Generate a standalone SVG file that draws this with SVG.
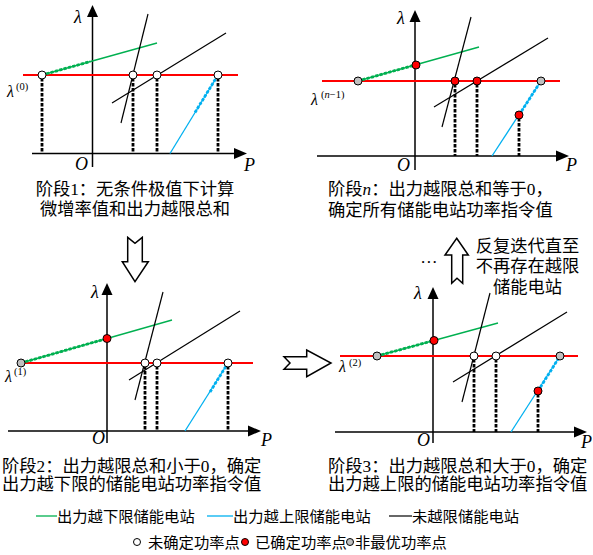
<svg xmlns="http://www.w3.org/2000/svg" width="593" height="555" viewBox="0 0 593 555">
<style>
.ax{stroke:#000;stroke-width:1.5;fill:none}
.ah{fill:#000;stroke:none}
.red{stroke:#ff0000;stroke-width:1.8;fill:none}
.grn{stroke:#00b050;stroke-width:1.3;fill:none}
.grnd{stroke:#00b050;stroke-width:2.8;stroke-dasharray:3 1.5;fill:none}
.blu{stroke:#00b0f0;stroke-width:1.3;fill:none}
.blud{stroke:#00b0f0;stroke-width:2.8;stroke-dasharray:3 1.5;fill:none}
.blk{stroke:#000;stroke-width:1.2;fill:none}
.vd{stroke:#000;stroke-width:2.8;stroke-dasharray:3.5 1.5;fill:none}
.pw{fill:#fff;stroke:#000;stroke-width:1}
.pr{fill:#ff0000;stroke:#000;stroke-width:1}
.pg{fill:#c0c0c0;stroke:#000;stroke-width:1}
.it{font-family:"Liberation Serif",serif;font-style:italic;font-size:18px;fill:#000}
.lam{font-family:"Liberation Serif",serif;font-style:italic;font-size:16px;fill:#000}
.sup{font-family:"Liberation Serif",serif;font-size:10.5px;fill:#000}
.cap{font-family:"Liberation Serif","Noto Sans CJK SC",serif;font-size:17.3px;fill:#000}
.leg{font-family:"Liberation Serif","Noto Sans CJK SC",serif;font-size:15.3px;fill:#000}
.arr{fill:#fff;stroke:#000;stroke-width:1.5;stroke-linejoin:miter}
</style>

<g id="panel1">
<line class="ax" x1="92.5" y1="15" x2="92.5" y2="167"/>
<polygon class="ah" points="92.5,5 87,17 98,17"/>
<line class="ax" x1="32" y1="153.5" x2="236" y2="153.5"/>
<polygon class="ah" points="247,153.5 234,148 234,159"/>
<line class="red" x1="23" y1="75" x2="238" y2="75"/>
<line class="grn" x1="42" y1="75" x2="157" y2="43"/>
<line class="grnd" x1="42" y1="75" x2="90" y2="61.6"/>
<line class="blk" x1="148" y1="14" x2="121" y2="123"/>
<line class="blk" x1="112" y1="103" x2="226" y2="33"/>
<line class="blu" x1="170" y1="153.5" x2="218" y2="75"/>
<line class="blud" x1="195" y1="112.5" x2="218" y2="75"/>
<line class="vd" x1="42" y1="78" x2="42" y2="153"/>
<line class="vd" x1="133" y1="78" x2="133" y2="153"/>
<line class="vd" x1="157" y1="78" x2="157" y2="153"/>
<line class="vd" x1="218" y1="78" x2="218" y2="153"/>
<circle class="pw" cx="42" cy="75" r="4"/>
<circle class="pw" cx="133" cy="75" r="4"/>
<circle class="pw" cx="157" cy="75" r="4"/>
<circle class="pw" cx="218" cy="75" r="4"/>
<text class="it" x="74" y="23">λ</text>
<text class="lam" x="7" y="97">λ</text><text class="sup" x="16" y="90">(0)</text>
<text class="it" x="75" y="170">O</text>
<text class="it" x="244" y="171">P</text>
<text class="cap" x="135" y="194.5" text-anchor="middle">阶段1：无条件极值下计算</text>
<text class="cap" x="135" y="214.5" text-anchor="middle">微增率值和出力越限总和</text>
</g>

<g id="panel2">
<line class="ax" x1="415" y1="20" x2="415" y2="170"/>
<polygon class="ah" points="415,10 409.5,22 420.5,22"/>
<line class="ax" x1="317" y1="156" x2="558" y2="156"/>
<polygon class="ah" points="569,156 556,150.5 556,161.5"/>
<line class="red" x1="322" y1="81" x2="560" y2="81"/>
<line class="grn" x1="358" y1="81" x2="479" y2="47"/>
<line class="grnd" x1="358" y1="81" x2="416" y2="64.7"/>
<line class="blk" x1="471" y1="17" x2="442" y2="127"/>
<line class="blk" x1="434" y1="107" x2="548" y2="38"/>
<line class="blu" x1="492" y1="156" x2="541" y2="81"/>
<line class="blud" x1="519" y1="115" x2="541" y2="81"/>
<line class="vd" x1="455" y1="84" x2="455" y2="156"/>
<line class="vd" x1="477" y1="84" x2="477" y2="156"/>
<line class="vd" x1="519" y1="118" x2="519" y2="156"/>
<circle class="pg" cx="358" cy="81" r="4"/>
<circle class="pr" cx="416" cy="65" r="4"/>
<circle class="pr" cx="455" cy="81" r="4"/>
<circle class="pr" cx="477" cy="81" r="4"/>
<circle class="pg" cx="541" cy="81" r="4"/>
<circle class="pr" cx="519" cy="115" r="4"/>
<text class="it" x="397" y="24">λ</text>
<text class="lam" x="311" y="105">λ</text><text class="sup" x="321" y="98">(<tspan font-style="italic">n</tspan>−1)</text>
<text class="it" x="397" y="171">O</text>
<text class="it" x="566" y="171">P</text>
<text class="cap" x="328" y="194.5">阶段<tspan font-style="italic">n</tspan>：出力越限总和等于0，</text>
<text class="cap" x="328" y="215.5">确定所有储能电站功率指令值</text>
</g>

<g id="panel3">
<line class="ax" x1="107" y1="293" x2="107" y2="443"/>
<polygon class="ah" points="107,283 101.5,295 112.5,295"/>
<line class="ax" x1="8" y1="431" x2="250" y2="431"/>
<polygon class="ah" points="261,431 248,425.5 248,436.5"/>
<line class="red" x1="20" y1="363" x2="253" y2="363"/>
<line class="grn" x1="21" y1="363" x2="172" y2="320"/>
<line class="grnd" x1="21" y1="363" x2="107" y2="338.5"/>
<line class="blk" x1="163" y1="292" x2="135" y2="400"/>
<line class="blk" x1="129" y1="380" x2="240" y2="311"/>
<line class="blu" x1="185" y1="431" x2="228" y2="363"/>
<line class="blud" x1="210" y1="392" x2="228" y2="363"/>
<line class="vd" x1="145" y1="366" x2="145" y2="431"/>
<line class="vd" x1="157" y1="366" x2="157" y2="431"/>
<line class="vd" x1="228" y1="366" x2="228" y2="431"/>
<circle class="pg" cx="21" cy="363" r="4"/>
<circle class="pr" cx="107" cy="338.5" r="4"/>
<circle class="pw" cx="145" cy="363" r="4"/>
<circle class="pw" cx="157" cy="363" r="4"/>
<circle class="pw" cx="228" cy="363" r="4"/>
<text class="it" x="91" y="298">λ</text>
<text class="lam" x="5" y="382">λ</text><text class="sup" x="14" y="375">(1)</text>
<text class="it" x="92" y="444">O</text>
<text class="it" x="261" y="446">P</text>
<text class="cap" x="2" y="471.5">阶段2：出力越限总和小于0，确定</text>
<text class="cap" x="2" y="490">出力越下限的储能电站功率指令值</text>
</g>

<g id="panel4">
<line class="ax" x1="433" y1="297" x2="433" y2="443"/>
<polygon class="ah" points="433,287 427.5,299 438.5,299"/>
<line class="ax" x1="335" y1="432" x2="576" y2="432"/>
<polygon class="ah" points="587,432 574,426.5 574,437.5"/>
<line class="red" x1="340" y1="356" x2="578" y2="356"/>
<line class="grn" x1="377" y1="356" x2="498" y2="323"/>
<line class="grnd" x1="377" y1="356" x2="434" y2="340.5"/>
<line class="blk" x1="490" y1="293" x2="462" y2="402"/>
<line class="blk" x1="453" y1="382" x2="567" y2="312"/>
<line class="blu" x1="511" y1="432" x2="560" y2="356"/>
<line class="blud" x1="538" y1="391" x2="560" y2="356"/>
<line class="vd" x1="474" y1="359" x2="474" y2="432"/>
<line class="vd" x1="496" y1="359" x2="496" y2="432"/>
<line class="vd" x1="538" y1="394" x2="538" y2="432"/>
<circle class="pg" cx="377" cy="356" r="4"/>
<circle class="pr" cx="434" cy="340.5" r="4"/>
<circle class="pw" cx="474" cy="356" r="4"/>
<circle class="pw" cx="496" cy="356" r="4"/>
<circle class="pg" cx="560" cy="356" r="4"/>
<circle class="pr" cx="538" cy="391" r="4"/>
<text class="it" x="414" y="299">λ</text>
<text class="lam" x="339" y="372">λ</text><text class="sup" x="349" y="366">(2)</text>
<text class="it" x="417" y="446">O</text>
<text class="it" x="581" y="448">P</text>
<text class="cap" x="328" y="471.5">阶段3：出力越限总和大于0，确定</text>
<text class="cap" x="328" y="490">出力越上限的储能电站功率指令值</text>
</g>

<g id="connectors">
<path id="arrow-down" class="arr" d="M127.7,237.3 L135,243.3 L142.3,237.3 L142.3,261.7 L148.3,261.7 L135,281.7 L122.3,261.7 L127.7,261.7 Z"/>
<path id="arrow-right" class="arr" d="M284,356.7 L306.7,356.7 L306.7,350 L331,363 L306.7,376.7 L306.7,369.3 L284,369.3 L290,363 Z"/>
<path id="arrow-up" class="arr" d="M456.7,238.3 L468.3,255 L462.7,255 L462.7,283.3 L457,278.3 L451.7,283.3 L451.7,255 L445,255 Z"/>
</g>

<g id="iterate-note">
<text class="cap" x="429" y="263" text-anchor="middle" font-size="16">…</text>
<text class="cap" x="527.5" y="251.5" text-anchor="middle">反复迭代直至</text>
<text class="cap" x="527.5" y="272" text-anchor="middle">不再存在越限</text>
<text class="cap" x="527.5" y="293" text-anchor="middle">储能电站</text>
</g>

<g id="legend">
<line class="grn" x1="36" y1="516" x2="57" y2="516"/>
<text class="leg" x="57" y="522">出力越下限储能电站</text>
<line class="blu" x1="207" y1="516" x2="233" y2="516"/>
<text class="leg" x="233" y="522">出力越上限储能电站</text>
<line class="blk" x1="389" y1="516" x2="412" y2="516"/>
<text class="leg" x="412" y="522">未越限储能电站</text>
<circle class="pw" cx="137" cy="542" r="3.5"/>
<text class="leg" x="148" y="548">未确定功率点</text>
<circle class="pr" cx="245" cy="542" r="3.5"/>
<text class="leg" x="255" y="548">已确定功率点</text>
<circle class="pg" cx="350" cy="542" r="3.5"/>
<text class="leg" x="355" y="548">非最优功率点</text>
</g>
</svg>
